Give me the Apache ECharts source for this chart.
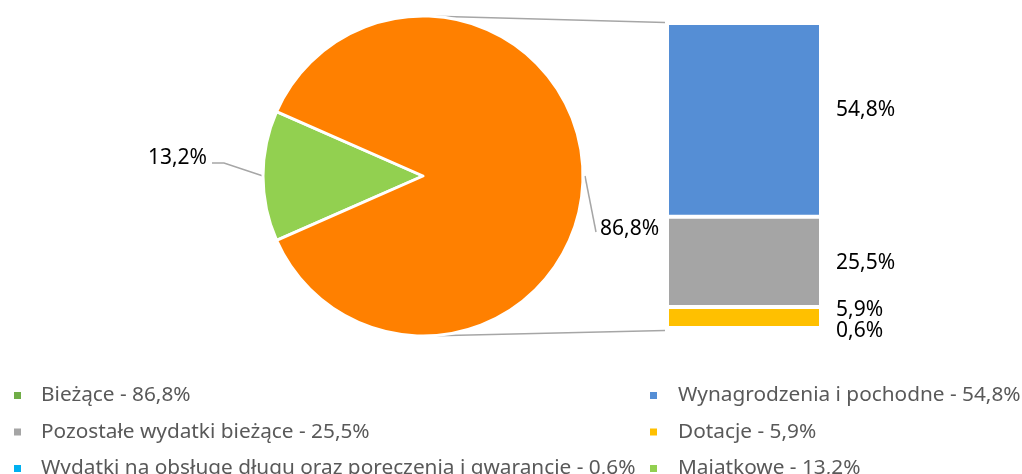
<!DOCTYPE html>
<html>
<head>
<meta charset="utf-8">
<script src="https://cdn.jsdelivr.net/npm/echarts@6/dist/echarts.min.js"></script>
<style>
  html, body { margin: 0; padding: 0; background: #fff; }
  #chart { width: 1022px; height: 474px; }
</style>
</head>
<body>
<div id="chart"></div>
<script>
// pie: capital vs current spending
const pieNames = ["Majątkowe", "Bieżące"];
const pieValues = [13.2, 86.8];
const pieColors = ["#92D050", "#FF8000"];
// bar: breakdown of "Bieżące" (top to bottom)
const barNames = [
  "Wynagrodzenia i pochodne",
  "Pozostałe wydatki bieżące",
  "Dotacje",
  "Wydatki na obsługę długu oraz poręczenia i gwarancje"
];
const barValues = [54.8, 25.5, 5.9, 0.6];
const barColors = ["#558ED5", "#A5A5A5", "#FFC000", "#00B0F0"];
const barLabelShift = [-10, 1, -7, 2];

const legendLeft = ["Bieżące", "Pozostałe wydatki bieżące", "Wydatki na obsługę długu oraz poręczenia i gwarancje"];
const legendRight = ["Wynagrodzenia i pochodne", "Dotacje", "Majątkowe"];

const FONT = "Noto Sans";
const pieCenter = [423, 176];
const pieRadius = 160;
const gridLeft = 667, gridWidth = 154, gridTop = 23, gridBottom = 144;

function pct(v) {
  return v.toFixed(1).replace(".", ",") + "%";
}

const valueByName = {};
pieNames.forEach((n, i) => { valueByName[n] = pieValues[i]; });
barNames.forEach((n, i) => { valueByName[n] = barValues[i]; });

const barTotal = barValues.reduce((a, b) => a + b, 0);

const chart = echarts.init(document.getElementById("chart"), null, { renderer: "canvas" });

// stacked bar series, bottom first
const barSeries = [];
for (let i = barNames.length - 1; i >= 0; i--) {
  barSeries.push({
    name: barNames[i],
    type: "bar",
    stack: "all",
    barWidth: "100%",
    data: [barValues[i]],
    itemStyle: { color: barColors[i], borderColor: "#fff", borderWidth: 2 },
    label: {
      show: true,
      position: "right",
      distance: 15,
      offset: [0, barLabelShift[i]],
      color: "#000",
      fontFamily: FONT,
      fontSize: 21,
      formatter: (p) => pct(p.value)
    },
    emphasis: { disabled: true },
    silent: true
  });
}

function legendCfg(names, left, padLeft) {
  return {
    type: "plain",
    orient: "vertical",
    left: left,
    top: 385,
    height: 120,
    padding: 0,
    itemWidth: 9,
    itemHeight: 9,
    itemGap: 15.5,
    icon: "rect",
    selectedMode: false,
    data: names.map((n) => n === "Bieżące"
      ? { name: n, itemStyle: { color: "#70AD47" } }
      : { name: n }),
    formatter: (n) => n + " - " + pct(valueByName[n]),
    textStyle: {
      color: "#595959",
      fontFamily: FONT,
      fontSize: 20.8,
      lineHeight: 21,
      padding: [0, 0, 0, padLeft]
    }
  };
}

chart.setOption({
  animation: false,
  textStyle: { fontFamily: FONT },
  legend: [legendCfg(legendLeft, 12, 14), legendCfg(legendRight, 648, 15)],
  grid: { left: gridLeft, width: gridWidth, top: gridTop, bottom: gridBottom },
  xAxis: { type: "category", data: [""], show: false },
  yAxis: { type: "value", min: 0, max: barTotal, show: false },
  series: [
    {
      type: "pie",
      center: pieCenter,
      radius: pieRadius,
      startAngle: 180 + pieValues[0] * 3.6 / 2,
      clockwise: true,
      data: pieNames.map((n, i) => ({
        name: n,
        value: pieValues[i],
        itemStyle: { color: pieColors[i] }
      })),
      itemStyle: { borderColor: "#fff", borderWidth: 3 },
      label: {
        show: true,
        position: "outside",
        color: "#000",
        fontFamily: FONT,
        fontSize: 21,
        formatter: (p) => pct(p.value)
      },
      labelLine: {
        show: true,
        length: 40,
        length2: 12,
        lineStyle: { color: "#A6A6A6", width: 1.5 }
      },
      labelLayout: function (params) {
        const p0 = params.labelLinePoints[0];
        if (params.dataIndex === 0) {
          return {
            x: p0[0] - 56,
            y: p0[1] - 18,
            align: "right",
            verticalAlign: "middle",
            labelLinePoints: [p0, [p0[0] - 39, p0[1] - 13], [p0[0] - 51, p0[1] - 13]]
          };
        }
        return {
          x: p0[0] + 17,
          y: p0[1] + 53,
          align: "left",
          verticalAlign: "middle",
          labelLinePoints: [[p0[0] + 2, p0[1]], [p0[0] + 13, p0[1] + 56]]
        };
      },
      emphasis: { disabled: true },
      silent: true
    }
  ].concat(barSeries)
});

// connector lines from pie to bar, tangent to the pie circle
function tangentPoint(P, upper) {
  const dx = P[0] - pieCenter[0], dy = P[1] - pieCenter[1];
  const d = Math.sqrt(dx * dx + dy * dy);
  const th = Math.atan2(dy, dx);
  const a = Math.acos(pieRadius / d);
  const ang = upper ? th - a : th + a;
  return [pieCenter[0] + pieRadius * Math.cos(ang), pieCenter[1] + pieRadius * Math.sin(ang)];
}

const topPx = chart.convertToPixel({ gridIndex: 0 }, [0, barTotal]);
const botPx = chart.convertToPixel({ gridIndex: 0 }, [0, 0]);
const barLeft = gridLeft - 2;
const pTop = [barLeft, topPx[1] - 0.5];
const pBot = [barLeft, botPx[1] + 0.5];
const tTop = tangentPoint(pTop, true);
const tBot = tangentPoint(pBot, false);

chart.setOption({
  graphic: [
    {
      type: "line",
      silent: true,
      shape: { x1: tTop[0], y1: tTop[1], x2: pTop[0], y2: pTop[1] },
      style: { stroke: "#A6A6A6", lineWidth: 1.5 }
    },
    {
      type: "line",
      silent: true,
      shape: { x1: tBot[0], y1: tBot[1], x2: pBot[0], y2: pBot[1] },
      style: { stroke: "#A6A6A6", lineWidth: 1.5 }
    }
  ]
});
</script>
</body>
</html>
